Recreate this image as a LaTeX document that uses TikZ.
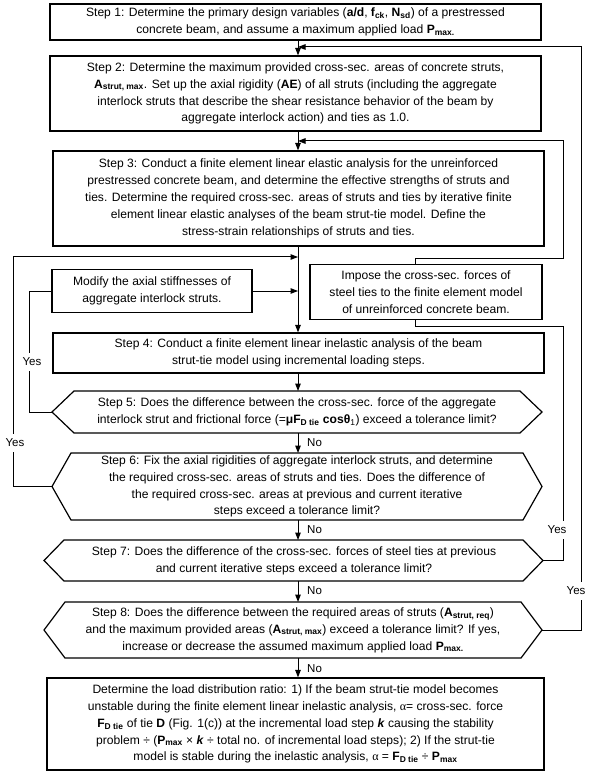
\documentclass[tikz,border=0pt]{standalone}
\usepackage{fontspec}
\setmainfont{Liberation Sans}
\newfontfamily\serifalpha{Liberation Serif}
\usetikzlibrary{arrows.meta,calc}
\newcommand{\bsub}[2]{\textbf{#1\textsubscript{#2}}}
\newcommand{\alp}{{\serifalpha α}}
\begin{document}
\begin{tikzpicture}[x=1pt,y=-1pt,
  txt/.style={inner sep=0pt, align=center, font=\fontsize{12.1}{16.9}\selectfont},
  stepbox/.style={txt, draw, line width=1.2pt},
  hexline/.style={line width=1.2pt, line join=miter},
  conn/.style={line width=1pt},
  arr/.style={conn, -{Triangle[length=7.5pt,width=5.5pt]}},
  lbl/.style={font=\fontsize{11.5}{13}\selectfont, inner sep=1pt},
  gaplbl/.style={lbl, fill=white, inner ysep=5pt}]
\useasboundingbox (0,0) rectangle (600,775);
\coordinate (mx) at (298,0);

% Step 1
\node[stepbox, minimum width=491, minimum height=36] (s1) at (295.5,22)
 {Step 1: Determine the primary design variables (\textbf{a/d}, \bsub{f}{ck}, \bsub{N}{sd}) of a prestressed\\
  concrete beam, and assume a maximum applied load \bsub{P}{max.}};
% Step 2
\node[stepbox, minimum width=491, minimum height=75] (s2) at (295.5,93.5)
 {Step 2: Determine the maximum provided cross-sec. areas of concrete struts,\\
  \bsub{A}{strut, max}. Set up the axial rigidity (\textbf{AE}) of all struts (including the aggregate\\
  interlock struts that describe the shear resistance behavior of the beam by\\
  aggregate interlock action) and ties as 1.0.};
% Step 3
\node[stepbox, minimum width=491, minimum height=95] (s3) at (298.5,198.5)
 {Step 3: Conduct a finite element linear elastic analysis for the unreinforced\\
  prestressed concrete beam, and determine the effective strengths of struts and\\
  ties. Determine the required cross-sec. areas of struts and ties by iterative finite\\
  element linear elastic analyses of the beam strut-tie model. Define the\\
  stress-strain relationships of struts and ties.};
% Modify
\node[stepbox, minimum width=200, minimum height=43] (mod) at (152,291)
 {Modify the axial stiffnesses of\\ aggregate interlock struts.};
% Impose
\node[stepbox, minimum width=232, minimum height=55] (imp) at (426,292)
 {Impose the cross-sec. forces of\\ steel ties to the finite element model\\ of unreinforced concrete beam.};
% Step 4
\node[stepbox, minimum width=491, minimum height=40] (s4) at (298.5,353)
 {Step 4: Conduct a finite element linear inelastic analysis of the beam\\
  strut-tie model using incremental loading steps.};
% Step 5
\node[txt] (s5) at (297,412)
 {Step 5: Does the difference between the cross-sec. force of the aggregate\\
  interlock strut and frictional force (=\textbf{μF\textsubscript{D tie} cosθ}\textsubscript{1}) exceed a tolerance limit?};
\draw[hexline] (74,391) -- (520,391) -- (542,412) -- (520,433) -- (74,433) -- (52,412) -- cycle;
\coordinate (s5L) at (52,412); \coordinate (s5T) at (298,391); \coordinate (s5B) at (298,433);
% Step 6
\node[txt] (s6) at (297,486.5)
 {Step 6: Fix the axial rigidities of aggregate interlock struts, and determine\\
  the required cross-sec. areas of struts and ties. Does the difference of\\
  the required cross-sec. areas at previous and current iterative\\
  steps exceed a tolerance limit?};
\draw[hexline] (71,453) -- (523,453) -- (542,486.5) -- (523,520) -- (71,520) -- (52,486.5) -- cycle;
\coordinate (s6L) at (52,486.5); \coordinate (s6T) at (298,453); \coordinate (s6B) at (298,520);
% Step 7
\node[txt] (s7) at (294,560.5)
 {Step 7: Does the difference of the cross-sec. forces of steel ties at previous\\
  and current iterative steps exceed a tolerance limit?};
\draw[hexline] (64,540) -- (523,540) -- (543,560.5) -- (523,581) -- (64,581) -- (44,560.5) -- cycle;
\coordinate (s7R) at (543,560.5); \coordinate (s7T) at (298,540); \coordinate (s7B) at (298,581);
% Step 8
\node[txt] (s8) at (293,630)
 {Step 8: Does the difference between the required areas of struts (\bsub{A}{strut, req})\\
  and the maximum provided areas (\bsub{A}{strut, max}) exceed a tolerance limit? If yes,\\
  increase or decrease the assumed maximum applied load \bsub{P}{max.}};
\draw[hexline] (65,602) -- (521,602) -- (542,630) -- (521,658) -- (65,658) -- (44,630) -- cycle;
\coordinate (s8R) at (542,630); \coordinate (s8T) at (298,602); \coordinate (s8B) at (298,658);
% Final
\node[stepbox, minimum width=497, minimum height=92] (fin) at (295.5,724)
 {Determine the load distribution ratio: 1) If the beam strut-tie model becomes\\
  unstable during the finite element linear inelastic analysis, \alp= cross-sec. force\\
  \bsub{F}{D tie} of tie \textbf{D} (Fig. 1(c)) at the incremental load step \textbf{\textit{k}} causing the stability\\
  problem ÷ (\bsub{P}{max} × \textbf{\textit{k}} ÷ total no. of incremental load steps); 2) If the strut-tie\\
  model is stable during the inelastic analysis, \alp{} = \bsub{F}{D tie} ÷ \bsub{P}{max}};

% main flow
\draw[arr] (s1.south -| mx) -- (s2.north -| mx);
\draw[arr] (s2.south -| mx) -- (s3.north -| mx);
\draw[arr] (s3.south -| mx) -- (s4.north -| mx);
\draw[arr] (s4.south -| mx) -- (s5T);
\draw[arr] (s5B) -- (s6T);
\draw[arr] (s6B) -- (s7T);
\draw[arr] (s7B) -- (s8T);
\draw[arr] (s8B) -- (fin.north -| mx);
\node[lbl, anchor=west] at (306,443) {No};
\node[lbl, anchor=west] at (306,530) {No};
\node[lbl, anchor=west] at (306,591) {No};
\node[lbl, anchor=west] at (306,669) {No};

% Modify -> main
\draw[arr] (mod.east) -- (mod.east -| mx);
% Step 5 yes -> Modify
\coordinate (c5) at (29,291);
\draw[conn] (s5L) -| (c5) -- (mod.west);
\node[gaplbl] at (32,362) {Yes};
% Step 6 yes -> loop
\coordinate (c6) at (13,257);
\coordinate (j6) at (298,257);
\draw[arr] (s6L) -| (c6) -- (j6);
\node[gaplbl] at (15,443) {Yes};
% Impose top -> between step 2 and 3
\coordinate (r1) at (415,259); \coordinate (r2) at (563,259);
\coordinate (r3) at (563,141); \coordinate (j2) at (298,141);
\draw[arr] (imp.north -| r1) -- (r1) -- (r2) -- (r3) -- (j2);
% Step 7 yes -> Impose bottom
\coordinate (r4) at (563,326); \coordinate (r5) at (415,326);
\draw[conn] (s7R) -| (r4) -- (r5) -- (imp.south -| r5);
\node[gaplbl] at (557,530) {Yes};
% Step 8 yes -> top
\coordinate (r6) at (581,47); \coordinate (j0) at (298,47);
\draw[arr] (s8R) -| (r6) -- (j0);
\node[gaplbl] at (576,591) {Yes};
\end{tikzpicture}
\end{document}
